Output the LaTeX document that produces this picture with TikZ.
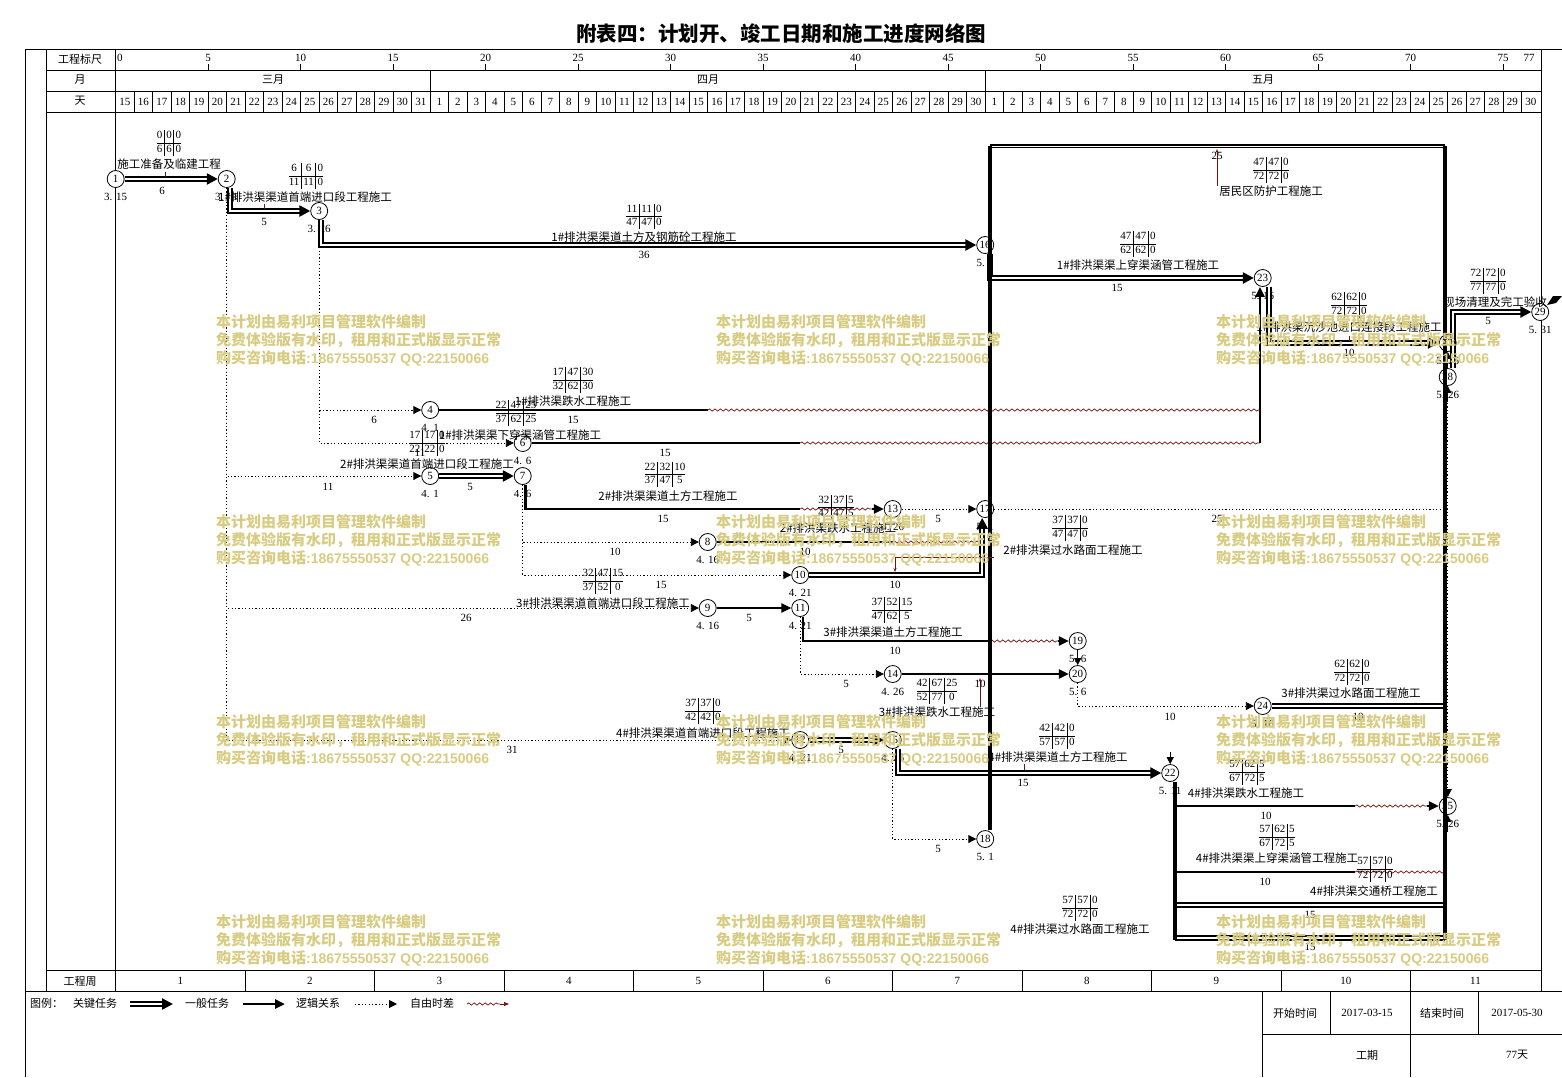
\documentclass[tikz,border=0pt]{standalone}
\usepackage{fontspec}
\setmainfont{Noto Sans CJK SC}
\newfontfamily\numfont{Liberation Serif}
\newfontfamily\wmnum{Liberation Sans}
\usetikzlibrary{arrows.meta,decorations.pathmorphing}
\definecolor{wavecol}{RGB}{120,16,16}
\definecolor{wmcol}{RGB}{216,204,130}
\newcommand\lbfont{\fontsize{11.5}{12}\selectfont}
\newcommand\tbx[8]{\node[tbl] at (#1,#2) {\begin{tabular}{@{}c|c|c@{}}#3&#4&#5\\\hline #6&#7&#8\end{tabular}};}
\newcommand\wmark[2]{%
 \node[wm] at (#1,#2) {本计划由易利项目管理软件编制};
 \node[wm] at (#1,#2+18) {免费体验版有水印，租用和正式版显示正常};
 \node[wm] at (#1,#2+36) {购买咨询电话{\wmnum\bfseries\fontsize{14}{18}\selectfont :18675550537 QQ:22150066}};}
\tikzset{
 ev/.style={circle,draw,line width=0.8pt,fill=white,minimum size=17pt,inner sep=0pt,font=\numfont\fontsize{11}{11}\selectfont},
 crit/.style={draw,line width=2.4pt,double=white,double distance=1.6pt,-{Triangle[length=11pt,width=11pt]}},
 critn/.style={draw,line width=2.4pt,double=white,double distance=1.6pt},
 topbox/.style={draw,line width=1.5pt,double=white,double distance=1pt},
 gen/.style={line width=2.5pt,-{Triangle[length=10pt,width=9pt]}},
 genn/.style={line width=2.5pt},
 small/.style={line width=1pt,-{Triangle[length=7pt,width=7pt]}},
 dot/.style={line width=0.9pt,dash pattern=on 1.2pt off 2.2pt,-{Triangle[length=8pt,width=8pt]}},
 dotn/.style={line width=0.9pt,dash pattern=on 1.2pt off 2.2pt},
 wave/.style={draw=wavecol,line width=0.7pt,decorate,decoration={snake,amplitude=1.1pt,segment length=5.5pt}},
 trunk/.style={line width=4pt},
 ptr/.style={draw=wavecol,line width=0.8pt,-{Stealth[length=4pt,width=3pt]}},
 tick/.style={draw=wavecol,line width=0.9pt},
 lb/.style={font=\lbfont,inner sep=0pt},
 num/.style={font=\numfont\fontsize{11}{11}\selectfont,inner sep=0pt},
 hd/.style={font=\fontsize{11}{11}\selectfont,inner sep=0pt},
 tbl/.style={inner sep=0pt,font=\numfont\fontsize{11}{12.6}\selectfont\setlength\tabcolsep{1.9pt}\setlength\arrayrulewidth{0.6pt}},
 wm/.style={anchor=base west,inner sep=0pt,text=wmcol,font=\bfseries\fontsize{15}{18}\selectfont},
 frame/.style={line width=0.9pt}
}
\begin{document}
\begin{tikzpicture}[x=1pt,y=-1pt]
\useasboundingbox (0,0) rectangle (1562,1077);
\fill[white] (0,0) rectangle (1562,1077);
% title
\node[font=\bfseries\fontsize{20.5}{21}\selectfont,inner sep=0pt] (title) at (781,34) {附表四：计划开、竣工日期和施工进度网络图};
% frame
\draw[frame] (25,49) -- (1562,49);
\draw[frame] (25,49) -- (25,1077);
\draw[frame] (46,49) -- (46,991);
\draw[frame] (115.7,49) -- (115.7,991);
\draw[frame] (1541,49) -- (1541,991);
\draw[frame] (46,70) -- (1541,70);
\draw[frame] (46,91) -- (1541,91);
\draw[frame] (46,112) -- (1541,112);
\draw[frame] (46,970) -- (1541,970);
\draw[frame] (25,991) -- (1562,991);
\node[hd] at (80,59) {工程标尺};
\node[hd] at (80,80) {月};
\node[hd] at (80,101) {天};
\node[hd] at (80,981) {工程周};
% scale
\node[num,anchor=west] at (117,58) {0};
\foreach \d in {5,10,...,75}{
  \draw[line width=0.8pt] ({115.7+18.5*\d},64) -- ({115.7+18.5*\d},70);
  \node[num] at ({115.7+18.5*\d},58) {\d};}
\node[num] at (1529,58) {77};
% months
\draw[frame] (430.2,70) -- (430.2,91);
\draw[frame] (985.2,70) -- (985.2,91);
\node[hd] at (273,80) {三月};
\node[hd] at (708,80) {四月};
\node[hd] at (1263,80) {五月};
% days
\foreach \i in {1,...,76}{\draw[line width=0.8pt] ({115.7+18.5*\i},91) -- ({115.7+18.5*\i},112);}
\foreach \i in {0,...,76}{
  \pgfmathtruncatemacro\dayn{\i<17 ? 15+\i : (\i<47 ? \i-16 : \i-46)}
  \node[num] at ({115.7+18.5*(\i+0.5)},101.5) {\dayn};}
% weeks
\foreach \w in {1,...,10}{\draw[frame] ({115.7+129.5*\w},970) -- ({115.7+129.5*\w},991);}
\foreach \w in {1,...,11}{\node[num] at ({115.7+18.5*(7*\w-3.5)},981) {\w};}
% legend
\node[hd,anchor=west] at (30,1003) {图例：};
\node[hd] at (95,1003) {关键任务};
\node[hd] at (207,1003) {一般任务};
\node[hd] at (318,1003) {逻辑关系};
\node[hd] at (432,1003) {自由时差};
\coordinate (la1) at (130,1004); \coordinate (la2) at (173,1004);
\coordinate (lb1) at (243,1004); \coordinate (lb2) at (285,1004);
\coordinate (lc1) at (355,1004); \coordinate (lc2) at (397,1004);
\coordinate (ld1) at (467,1004); \coordinate (ld2) at (500,1004); \coordinate (ld3) at (509,1004);
\draw[crit] (la1) -- (la2);
\draw[gen] (lb1) -- (lb2);
\draw[dot] (lc1) -- (lc2);
\draw[wave] (ld1) -- (ld2);
\draw[wavecol,line width=0.7pt,-{Triangle[length=5pt,width=4pt]}] (ld2) -- (ld3);
\draw[frame] (1262,991) -- (1262,1077);
\draw[frame] (1410,991) -- (1410,1077);
\draw[frame] (1330,991) -- (1330,1034);
\draw[frame] (1478,991) -- (1478,1034);
\draw[frame] (1262,1034) -- (1562,1034);
\node[hd] at (1295,1013) {开始时间};
\node[num] at (1367,1013) {2017-03-15};
\node[hd] at (1442,1013) {结束时间};
\node[num] at (1517,1013) {2017-05-30};
\node[hd] at (1367,1055) {工期};
\node[hd] at (1517,1055) {\numfont 77\rmfamily 天};
% ---------- event nodes
\node[ev] (n1) at (115.7,179) {1};
\node[ev] (n2) at (226.7,179) {2};
\node[ev] (n3) at (319.2,211) {3};
\node[ev] (n4) at (430.2,410) {4};
\node[ev] (n5) at (430.2,476) {5};
\node[ev] (n6) at (522.7,443) {6};
\node[ev] (n7) at (522.7,476) {7};
\node[ev] (n8) at (707.7,542) {8};
\node[ev] (n9) at (707.7,608) {9};
\node[ev] (n10) at (800.2,575) {10};
\node[ev] (n11) at (800.2,608) {11};
\node[ev] (n12) at (800.2,740) {12};
\node[ev] (n13) at (892.7,509) {13};
\node[ev] (n14) at (892.7,674) {14};
\node[ev] (n15) at (892.7,740) {15};
\node[ev] (n16) at (985.2,245) {16};
\node[ev] (n17) at (985.2,509) {17};
\node[ev] (n18) at (985.2,839) {18};
\node[ev] (n19) at (1077.7,641) {19};
\node[ev] (n20) at (1077.7,674) {20};
\node[ev] (n22) at (1170.2,773) {22};
\node[ev] (n23) at (1262.7,278) {23};
\node[ev] (n24) at (1262.7,706) {24};
\node[ev] (n27) at (1447.7,343) {27};
\node[ev] (n28) at (1447.7,377) {28};
\node[ev] (n26) at (1447.7,806) {25};
\node[ev] (n29) at (1540.2,312) {29};
% dates
\foreach \n/\t in {n1/3. 15,n2/3. 21,n3/3. 26,n4/4. 1,n5/4. 1,n6/4. 6,n7/4. 6,n8/4. 16,n9/4. 16,n10/4. 21,n11/4. 21,n12/4. 21,n13/4. 26,n14/4. 26,n15/4. 26,n16/5. 1,n17/5. 1,n18/5. 1,n19/5. 6,n20/5. 6,n22/5. 11,n23/5. 16,n24/5. 16,n27/5. 26,n28/5. 26,n26/5. 26,n29/5. 31}
  {\node[num] at ([yshift=-9pt]\n.south) {\t};}
% ---------- coordinates
\coordinate (tl) at (990.2,146);
\coordinate (tr) at (1445,146);
\coordinate (trb) at (1445,940);
\coordinate (c4) at (707.7,410); \coordinate (c4e) at (1260,410);
\coordinate (c6) at (800.2,443); \coordinate (c6e) at (1260,443);
\coordinate (c7) at (800.2,509); \coordinate (c7w) at (872,509);
\coordinate (c8) at (892.7,542); \coordinate (c8e) at (982,542);
\coordinate (c11) at (990,641); \coordinate (c11w) at (1058,641);
\coordinate (c17e) at (1447.7,509);
\coordinate (c24e) at (1445,706);
\coordinate (c22b) at (1175.2,940);
\coordinate (p806) at (1175.2,806); \coordinate (q806) at (1355.2,806); \coordinate (r806) at (1427,806);
\coordinate (p872) at (1175.2,872); \coordinate (q872) at (1355.2,872); \coordinate (r872) at (1445,872);
\coordinate (p905) at (1175.2,905); \coordinate (r905) at (1445,905);
\coordinate (p938) at (1175.2,938); \coordinate (r938) at (1445,938);
\coordinate (a22) at (1170.2,752);
\coordinate (a28) at (1447.7,402);
\coordinate (a26) at (1447.7,832);
% ---------- logic (dotted)
\draw[dot] (n2.south) |- (n5.west);
\draw[dot] (n2.south) |- (n9.west);
\draw[dot] (n2.south) |- (n12.west);
\draw[dot] (n3.south) |- (n4.west);
\draw[dot] (n3.south) |- (n6.west);
\draw[dot] (n7.south) |- (n8.west);
\draw[dot] (n7.south) |- (n10.west);
\draw[dot] (n11.south) |- (n14.west);
\draw[dot] (n15.south) |- (n18.west);
\draw[dot] (n13.east) -- (n17.west);
\draw[dotn] (n17.east) -- (c17e);
\draw[dot] (n28.south) -- (n26.north);
\draw[dot] (n20.south) |- (n24.west);
% ---------- general tasks
\draw[genn] (n4.east) -- (c4);
\draw[wave] (c4) -- (c4e);
\draw[genn] (n6.east) -- (c6);
\draw[wave] (c6) -- (c6e);
\draw[gen] (c6e) -- (c6e |- n23.south);
\draw[genn] ([xshift=3pt]n7.south) |- (c7);
\draw[wave] (c7) -- (c7w);
\draw[gen] (c7w) -- (n13.west);
\draw[genn] (n8.east) -- (c8);
\draw[wave] (c8) -- (c8e);
\draw[gen] (n9.east) -- (n11.west);
\draw[genn] ([xshift=3pt]n11.south) |- (c11);
\draw[wave] (c11) -- (c11w);
\draw[gen] (c11w) -- (n19.west);
\draw[gen] (n14.east) -- (n20.west);
\draw[small] (n19.south) -- (n20.north);
\draw[genn] (p806) -- (q806);
\draw[wave] (q806) -- (r806);
\draw[gen] (r806) -- (n26.west);
\draw[genn] (p872) -- (q872);
\draw[wave] (q872) -- (r872);
\draw[small] (a22) -- (n22.north);
% ---------- critical tasks
\draw[crit] (n1.east) -- (n2.west);
\draw[crit] ([xshift=3pt]n2.south) |- (n3.west);
\draw[crit] ([xshift=2pt]n3.south) |- (n16.west);
\draw[crit] ([xshift=5pt]n16.south) |- (n23.west);
\draw[crit] ([xshift=6pt]n23.south) |- (n27.west);
\draw[crit] ([xshift=5pt]n28.north) |- (n29.west);
\draw[crit] (n5.east) -- (n7.west);
\draw[crit] (n10.east) -| ([xshift=-3pt]n17.south);
\draw[crit] (n12.east) -- (n15.west);
\draw[crit] ([xshift=5pt]n15.south) |- (n22.west);
\draw[critn] (n24.east) -- (c24e);
\draw[critn] (p905) -- (r905);
\draw[critn] (p938) -- (r938);
\draw[topbox] (tl) -- (tr);
% trunks
\draw[trunk] (tl) -- ([xshift=5pt]n18.north);
\draw[trunk] (tr) -- (trb);
\draw[trunk] ([xshift=5pt]n22.south) -- (c22b);
\draw[small] (n28.north) -- (n27.south);
\draw[small] (a28) -- (n28.south);
\draw[small] (a26) -- (n26.south);
% pointers and ticks
\draw[ptr] (1217,186) -- (1217,149);
\draw[ptr] (994,557) -- (895,557) -- (895,572);
\draw[ptr] (980,707) -- (980,678);
\draw[tick] (165,172) -- (165,177);
\draw[tick] (264,204) -- (264,209);
\draw[tick] (1349,336) -- (1349,341);
\draw[tick] (1024,764) -- (1024,770);
% flag
\fill (1547,305) -- (1553,296) -- (1562,296) -- (1556,303) -- cycle;
% ---------- tables
\tbx{169}{143}{0}{0}{0}{6}{6}{0}
\tbx{306}{176}{6}{6}{0}{11}{11}{0}
\tbx{644}{216.5}{11}{11}{0}{47}{47}{0}
\tbx{1138}{244}{47}{47}{0}{62}{62}{0}
\tbx{1271}{170}{47}{47}{0}{72}{72}{0}
\tbx{1349}{305}{62}{62}{0}{72}{72}{0}
\tbx{1488}{281}{72}{72}{0}{77}{77}{0}
\tbx{573}{380}{17}{47}{30}{32}{62}{30}
\tbx{516}{413}{22}{47}{25}{37}{62}{25}
\tbx{427}{443}{17}{17}{0}{22}{22}{0}
\tbx{665}{474.5}{22}{32}{10}{37}{47}{5}
\tbx{836}{507.5}{32}{37}{5}{42}{47}{5}
\tbx{1070}{528}{37}{37}{0}{47}{47}{0}
\tbx{603}{581}{32}{47}{15}{37}{52}{0}
\tbx{892}{610}{37}{52}{15}{47}{62}{5}
\tbx{937}{691}{42}{67}{25}{52}{77}{0}
\tbx{1352}{672}{62}{62}{0}{72}{72}{0}
\tbx{703}{711}{37}{37}{0}{42}{42}{0}
\tbx{1057}{736}{42}{42}{0}{57}{57}{0}
\tbx{1247}{772}{57}{62}{5}{67}{72}{5}
\tbx{1277}{837}{57}{62}{5}{67}{72}{5}
\tbx{1375}{869}{57}{57}{0}{72}{72}{0}
\tbx{1080}{908}{57}{57}{0}{72}{72}{0}
% ---------- labels
\node[lb] at (169,164) {施工准备及临建工程};
\node[lb] at (305,197) {1\#排洪渠渠道首端进口段工程施工};
\node[lb] at (644,237) {1\#排洪渠渠道土方及钢筋砼工程施工};
\node[lb] at (1138,265) {1\#排洪渠渠上穿渠涵管工程施工};
\node[lb] at (1271,191) {居民区防护工程施工};
\node[lb] at (1349,327) {1\#排洪渠沉沙池进口连接段工程施工};
\node[lb] at (1495,302) {现场清理及完工验收};
\node[lb] at (573,401) {1\#排洪渠跌水工程施工};
\node[lb] at (520,435) {1\#排洪渠渠下穿渠涵管工程施工};
\node[lb] at (427,464) {2\#排洪渠渠道首端进口段工程施工};
\node[lb] at (668,496) {2\#排洪渠渠道土方工程施工};
\node[lb] at (838,528) {2\#排洪渠跌水工程施工};
\node[lb] at (1073,550) {2\#排洪渠过水路面工程施工};
\node[lb] at (603,603) {3\#排洪渠渠道首端进口段工程施工};
\node[lb] at (893,632) {3\#排洪渠渠道土方工程施工};
\node[lb] at (937,712) {3\#排洪渠跌水工程施工};
\node[lb] at (1351,693) {3\#排洪渠过水路面工程施工};
\node[lb] at (703,733) {4\#排洪渠渠道首端进口段工程施工};
\node[lb] at (1058,757) {4\#排洪渠渠道土方工程施工};
\node[lb] at (1246,793) {4\#排洪渠跌水工程施工};
\node[lb] at (1277,858) {4\#排洪渠渠上穿渠涵管工程施工};
\node[lb] at (1374,891) {4\#排洪渠交通桥工程施工};
\node[lb] at (1080,929) {4\#排洪渠过水路面工程施工};
% ---------- durations
\foreach \t/\x/\y in {6/162/191,5/264/222,36/644/255,15/1117/288,25/1217/156,10/1349/353,5/1488/321,
 6/374/420,15/573/420,11/420/453,15/665/453,11/328/487,5/470/487,15/663/519,5/938/519,25/1217/519,
 10/615/552,10/805/552,15/661/585,10/895/585,26/466/618,5/749/618,10/895/651,5/846/684,10/980/684,
 10/1170/717,10/1358/717,31/512/750,5/841/750,15/1023/783,10/1266/816,5/938/849,10/1265/882,
 15/1310/915,15/1310/947}
 {\node[num] at (\x,\y) {\t};}
% ---------- watermarks
\foreach \wx in {216,716,1216}{\foreach \wy in {327,527,727,927}{\wmark{\wx}{\wy}}}
\end{tikzpicture}
\end{document}
